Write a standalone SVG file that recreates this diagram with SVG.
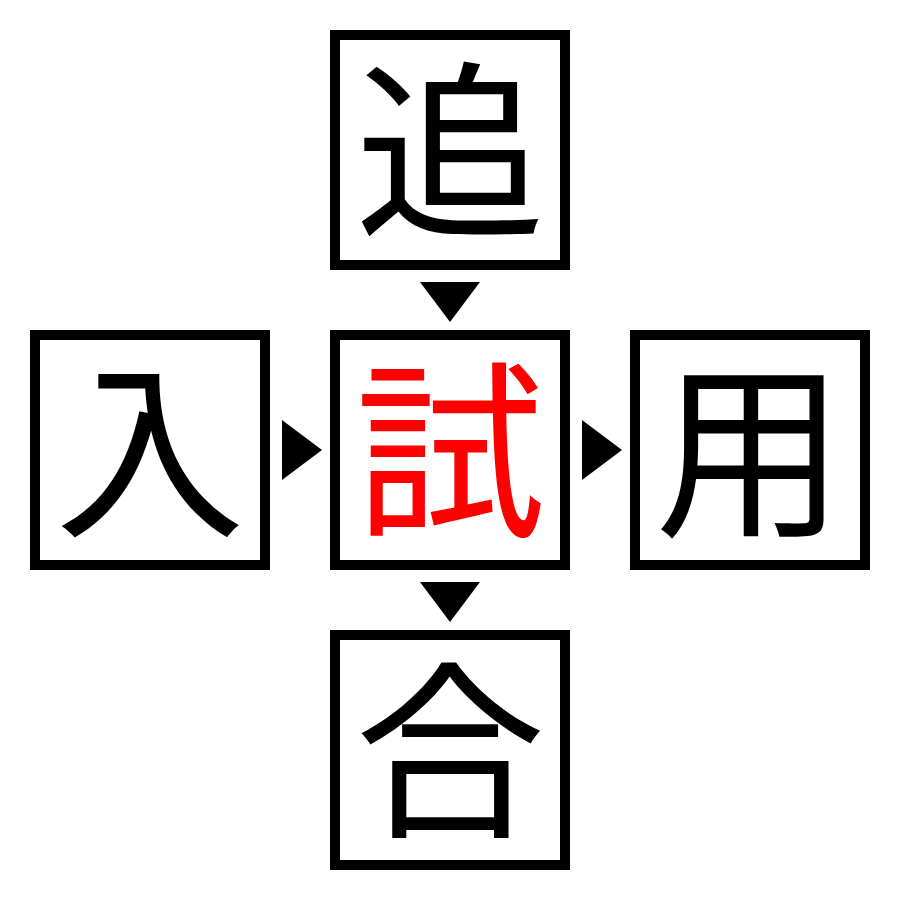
<svg xmlns="http://www.w3.org/2000/svg" width="900" height="900" viewBox="0 0 900 900">
<style>
.box{fill:#fff;stroke:#000;stroke-width:10}
.k{font-family:"Noto Sans CJK JP","Noto Sans CJK SC",serif;font-size:190px;text-anchor:middle;fill:#000}
.c{fill:#ff0000}
.arr{fill:#000}
</style>
<rect width="900" height="900" fill="#fff"/>
<g id="node-top"><rect class="box" x="335" y="35" width="230" height="230"/><text class="k" x="450" y="222">追</text></g>
<g id="node-left"><rect class="box" x="35" y="335" width="230" height="230"/><text class="k" x="150" y="522">入</text></g>
<g id="node-center"><rect class="box" x="335" y="335" width="230" height="230"/><text class="k c" x="450" y="522">試</text></g>
<g id="node-right"><rect class="box" x="635" y="335" width="230" height="230"/><text class="k" x="750" y="522">用</text></g>
<g id="node-bottom"><rect class="box" x="335" y="635" width="230" height="230"/><text class="k" x="450" y="822">合</text></g>
<g id="connectors">
<polygon class="arr" points="420,282 480,282 450,322"/>
<polygon class="arr" points="420,582 480,582 450,622"/>
<polygon class="arr" points="282,420 282,480 322,450"/>
<polygon class="arr" points="582,420 582,480 622,450"/>
</g>
</svg>
